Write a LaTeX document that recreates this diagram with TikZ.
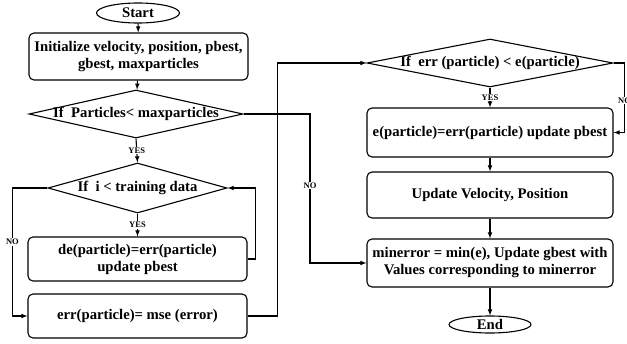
\documentclass[tikz,border=0pt]{standalone}
\usepackage{fontspec}
\setmainfont{Liberation Serif}
\usetikzlibrary{shapes.geometric}

\begin{document}
\begin{tikzpicture}[x=1pt,y=-1pt, line width=1.1pt, >=latex,
 every node/.style={font=\fontsize{14.7}{17}\selectfont\bfseries},
 term/.style={ellipse,draw,inner sep=0pt},
 box/.style={rectangle,draw,rounded corners=5pt,align=center,inner sep=0pt},
 test/.style={diamond,draw,inner sep=0pt},
 lbl/.style={fill=white,inner sep=1pt,font=\fontsize{8.5}{9}\selectfont\bfseries}]
\clip (0,0) rectangle (627,343);
% left column
\node[term,minimum width=83pt,minimum height=20pt] (start) at (138,13) {Start};
\node[box,minimum width=219pt,minimum height=47pt] (init) at (138.5,56.5) {Initialize velocity, position, pbest,\\gbest, maxparticles};
\node[test,minimum width=214pt,minimum height=48pt,label=center:{If\ \ Particles< maxparticles}] (d1) at (136,114) {};
\node[test,minimum width=179pt,minimum height=50pt,label=center:{If\ \ i < training data}] (d2) at (137.5,188) {};
\node[box,minimum width=219pt,minimum height=44pt] (de) at (137.5,259) {de(particle)=err(particle)\\update pbest};
\node[box,minimum width=219pt,minimum height=44pt] (err) at (137.5,316) {err(particle)= mse (error)};
% right column
\node[test,minimum width=246pt,minimum height=48pt,label=center:{If\ \ err (particle) < e(particle)}] (d3) at (490,63) {};
\node[box,minimum width=246pt,minimum height=49pt] (ep) at (490,132.5) {e(particle)=err(particle) update pbest};
\node[box,minimum width=246pt,minimum height=46pt] (uv) at (490,195) {Update Velocity, Position};
\node[box,minimum width=246pt,minimum height=48pt] (mn) at (490,263) {minerror = min(e), Update gbest with\\Values corresponding to minerror};
\node[term,minimum width=82pt,minimum height=17pt] (stop) at (490,324.5) {End};
\coordinate (k1) at (310,114);
% connectors
\draw[->] (start) -- (init);
\draw[->] (init) -- (d1);
\draw[->] (d1.south) -- node[lbl]{YES} (d2.north);
\draw[->] (d2.south) -- node[lbl]{YES} (de.north);
\draw[->] (de.east) -- ++(8,0) |- (d2.east);
\draw[->] (d2.west) -- ++(-35,0) |- node[pos=0.21,lbl]{NO} (err.west);
\draw[->] (err.east) -- ++(30,0) |- (d3.west);
\draw[->] (d1.east) -- (k1) |- node[pos=0.24,lbl]{NO} (mn.west);
\draw[->] (d3.south) -- node[lbl]{YES} (ep.north);
\draw[->] (d3.east) -- ++(11,0) |- node[pos=0.27,lbl]{NO} (ep.east);
\draw[->] (ep) -- (uv);
\draw[->] (uv) -- (mn);
\draw[->] (mn) -- (stop);
\end{tikzpicture}
\end{document}
